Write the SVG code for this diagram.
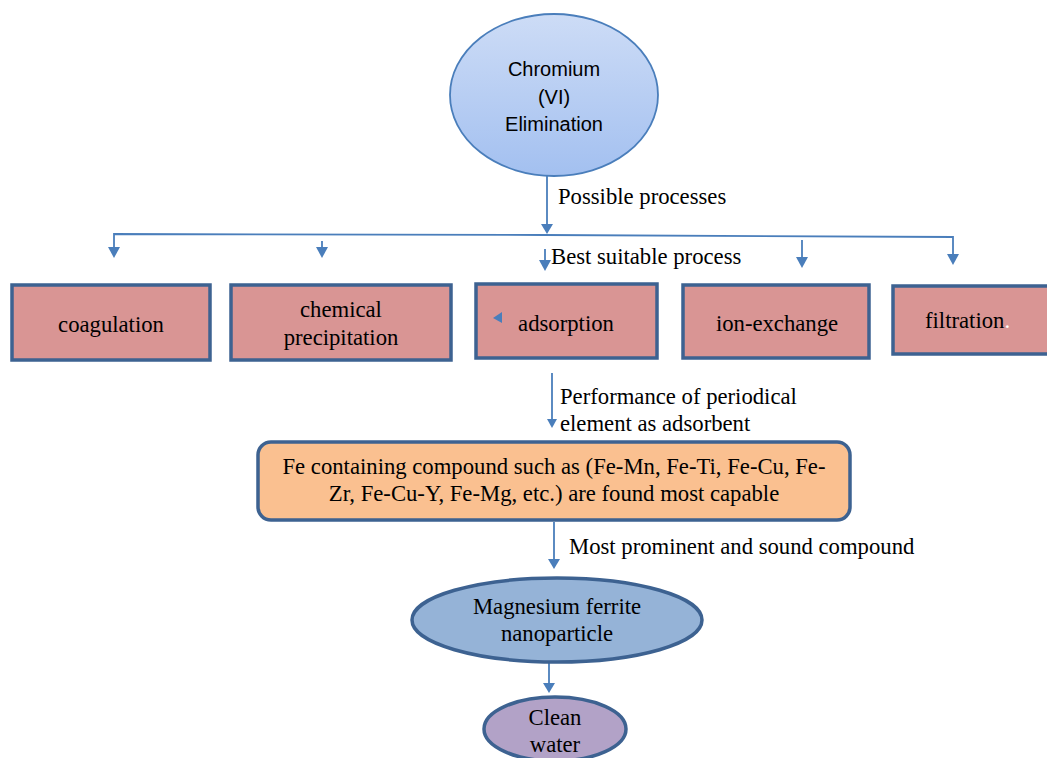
<svg xmlns="http://www.w3.org/2000/svg" width="1047" height="758" viewBox="0 0 1047 758">
<style>
.serif{font-family:"Liberation Serif","Times New Roman",serif;font-size:22.7px;fill:#000}
.sans{font-family:"Liberation Sans",Arial,sans-serif;font-size:20px;fill:#000}
.box{fill:#d99594;stroke:#3d6291;stroke-width:3.5}
.ln{fill:none;stroke:#4a7ebb;stroke-width:1.8}
.ah{fill:#4a7ebb}
</style>
<defs>
<linearGradient id="g1" x1="0" y1="0" x2="0" y2="1">
<stop offset="0" stop-color="#cddcf6"/>
<stop offset="1" stop-color="#a3c0f0"/>
</linearGradient>
</defs>
<rect width="1047" height="758" fill="#fff"/>

<g id="connectors">
<path class="ln" d="M547,176 V226"/>
<path class="ah" d="M541,224 L553,224 L547,234 Z"/>
<path class="ln" d="M114,248 V234 L545,235 L953,237 V255"/>
<path class="ah" d="M108,247 L120,247 L114,258 Z"/>
<path class="ln" d="M322,241 V250"/>
<path class="ah" d="M316,247 L328,247 L322,258 Z"/>
<path class="ln" d="M545,249 V263"/>
<path class="ah" d="M539,260 L551,260 L545,271 Z"/>
<path class="ln" d="M802,240 V260"/>
<path class="ah" d="M796,257 L808,257 L802,268 Z"/>
<path class="ah" d="M947,254 L959,254 L953,265 Z"/>
<path class="ln" d="M552,373 V422"/>
<path class="ah" d="M547,419 L557,419 L552,428 Z"/>
<path class="ln" d="M554,522 V561"/>
<path class="ah" d="M548,559 L560,559 L554,569 Z"/>
<path class="ln" d="M549,663 V685"/>
<path class="ah" d="M543,683 L555,683 L549,693 Z"/>
</g>

<g id="labels">
<text class="serif" x="558" y="204">Possible processes</text>
<text class="serif" x="551" y="264">Best suitable process</text>
<text class="serif" x="560" y="404">Performance of periodical</text>
<text class="serif" x="560" y="431">element as adsorbent</text>
<text class="serif" x="569" y="554">Most prominent and sound compound</text>
</g>

<g id="chromium">
<ellipse cx="554" cy="95" rx="104" ry="81" fill="url(#g1)" stroke="#4a7ebb" stroke-width="1.8"/>
<text class="sans" x="554" y="76" text-anchor="middle">Chromium</text>
<text class="sans" x="554" y="104" text-anchor="middle">(VI)</text>
<text class="sans" x="554" y="131" text-anchor="middle">Elimination</text>
</g>

<g id="coagulation">
<rect class="box" x="12" y="285" width="198" height="75"/>
<text class="serif" x="111" y="332" text-anchor="middle">coagulation</text>
</g>
<g id="chemical-precipitation">
<rect class="box" x="231" y="285" width="220" height="75"/>
<text class="serif" x="341" y="317" text-anchor="middle">chemical</text>
<text class="serif" x="341" y="345" text-anchor="middle">precipitation</text>
</g>
<g id="adsorption">
<rect class="box" x="476" y="284" width="181" height="74"/>
<path class="ah" d="M502,312 L502,323 L493,318 Z"/>
<text class="serif" x="566" y="331" text-anchor="middle">adsorption</text>
</g>
<g id="ion-exchange">
<rect class="box" x="683" y="285" width="186" height="73"/>
<text class="serif" x="777" y="331" text-anchor="middle">ion-exchange</text>
</g>
<g id="filtration">
<rect class="box" x="893" y="286" width="160" height="68"/>
<text class="serif" x="925" y="328">filtration<tspan fill="#fff">.</tspan></text>
</g>

<g id="fe-compound">
<rect x="258" y="442" width="592" height="78" rx="13" ry="13" fill="#fac090" stroke="#3d6291" stroke-width="3.5"/>
<text class="serif" x="554" y="474" text-anchor="middle">Fe containing compound such as (Fe-Mn, Fe-Ti, Fe-Cu, Fe-</text>
<text class="serif" x="554" y="501" text-anchor="middle">Zr, Fe-Cu-Y, Fe-Mg, etc.) are found most capable</text>
</g>

<g id="magnesium-ferrite">
<ellipse cx="557" cy="620" rx="145" ry="42" fill="#95b3d7" stroke="#3d6291" stroke-width="3.5"/>
<text class="serif" x="557" y="614" text-anchor="middle">Magnesium ferrite</text>
<text class="serif" x="557" y="641" text-anchor="middle">nanoparticle</text>
</g>

<g id="clean-water">
<ellipse cx="555" cy="729" rx="71" ry="32" fill="#b2a2c7" stroke="#3d6291" stroke-width="3.5"/>
<text class="serif" x="555" y="725" text-anchor="middle">Clean</text>
<text class="serif" x="555" y="752" text-anchor="middle">water</text>
</g>
</svg>
